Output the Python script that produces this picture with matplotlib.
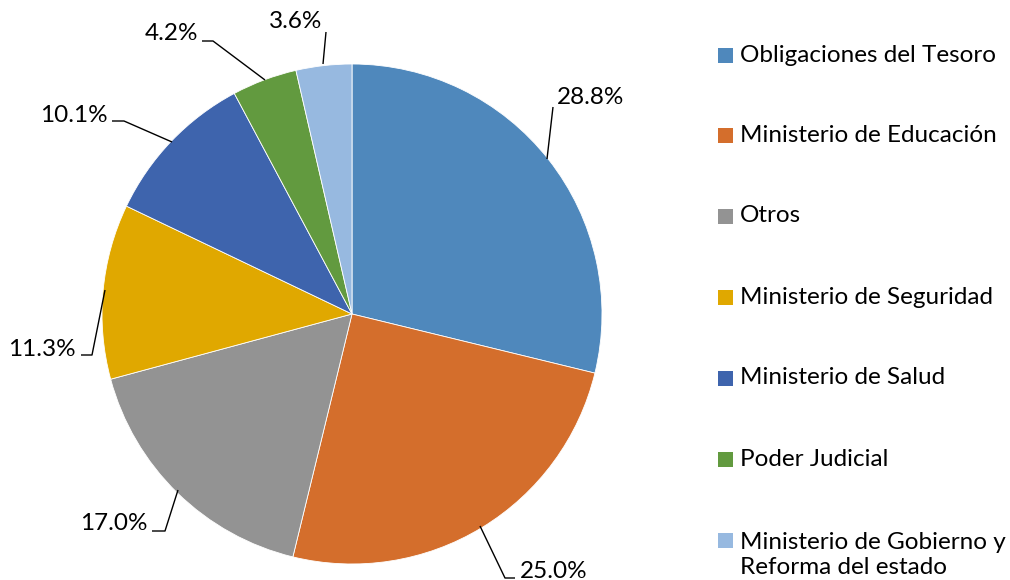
import matplotlib
matplotlib.use("Agg")
import matplotlib.pyplot as plt
from matplotlib.patches import Rectangle

categories = ["Obligaciones del Tesoro", "Ministerio de Educación", "Otros",
              "Ministerio de Seguridad", "Ministerio de Salud", "Poder Judicial",
              "Ministerio de Gobierno y\nReforma del estado"]
values = [28.8, 25.0, 17.0, 11.3, 10.1, 4.2, 3.6]
colors = ["#4F88BC", "#D46E2C", "#939393", "#E0A800", "#3E64AD", "#629A3F", "#97B9E0"]

plt.rcParams['font.family'] = ['Lato', 'DejaVu Sans']
W, H = 1010, 580
fig = plt.figure(figsize=(W / 100, H / 100), dpi=100)
ax = fig.add_axes([0, 0, 1, 1])

def Y(py):
    return H - py

cx, cy, r = 352, Y(314), 250
wedges, _ = ax.pie(values, colors=colors, startangle=90, counterclock=False,
                   center=(cx, cy), radius=r, frame=True,
                   wedgeprops=dict(linewidth=0.6, edgecolor='white'))
ax.set_xlim(0, W)
ax.set_ylim(0, H)
ax.set_aspect('equal')
ax.axis('off')

fs = 17.5
# label text anchor (pixel coords), leader polyline
labels_layout = [
    ((557, 98), 'left', [(553, 107), (547, 159)]),
    ((520, 572), 'left', [(515, 578), (505, 578), (480, 526)]),
    ((148, 524), 'right', [(152, 531), (165, 531), (178, 490)]),
    ((76, 349), 'right', [(81, 355), (92, 355), (105, 290)]),
    ((108, 115), 'right', [(112, 121), (124, 121), (172, 142)]),
    ((198, 33), 'right', [(202, 41), (213, 41), (265, 80)]),
    ((322, 22), 'right', [(326, 32), (323, 64)]),
]
for v, ((tx, ty), ha, pts) in zip(values, labels_layout):
    ax.text(tx, Y(ty), f"{v:.1f}%", ha=ha, va='center', fontsize=fs, color='#000000')
    ax.plot([p[0] for p in pts], [Y(p[1]) for p in pts], color='#000000', lw=1.0,
            solid_capstyle='butt')

# legend
row_y = [55, 135, 216, 297, 378, 459, 540]
for cat, col, ry in zip(categories, colors, row_y):
    ax.add_patch(Rectangle((718, Y(ry) - 7.5), 15, 15, facecolor=col, edgecolor='none'))
    nlines = cat.count('\n')
    ax.text(740, Y(ry + 15 * nlines), cat, ha='left', va='center',
            fontsize=fs, color='#000000', linespacing=1.22)

fig.savefig("out.png", dpi=100)
